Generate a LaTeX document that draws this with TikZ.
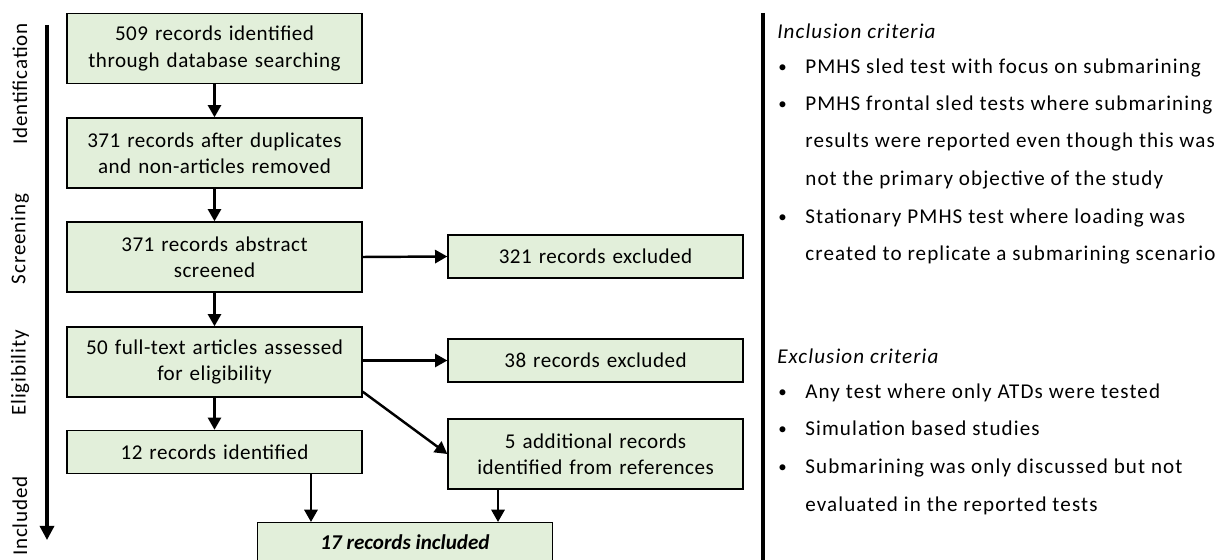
\documentclass[tikz,border=0pt]{standalone}
\usepackage{fontspec}
\setmainfont{Carlito}
\newfontfamily\boxfont[LetterSpace=2.3]{Carlito}
\newfontfamily\stagefont[LetterSpace=4]{Carlito}
\newfontfamily\critfont[LetterSpace=5.2]{Carlito}
\usetikzlibrary{arrows.meta,calc,positioning}
\definecolor{boxgreen}{HTML}{E2EFDA}
\newcommand{\critbullet}{\makebox[0.54cm][l]{\raisebox{0.08em}{\scalebox{0.8}{\textbullet}}}}
\tikzset{
  box/.style={draw=black, line width=0.8pt, fill=boxgreen, minimum width=5.9cm, text width=5.8cm, align=center, inner sep=0pt, font=\boxfont\fontsize{12}{15}\selectfont},
  twoline/.style={minimum height=1.4cm},
  oneline/.style={minimum height=0.86cm},
  arr/.style={line width=1.4pt, -{Triangle[length=7pt,width=7.5pt]}},
  stage/.style={rotate=90, font=\stagefont\fontsize{12}{15}\selectfont},
  crit/.style={anchor=base west, inner sep=0pt, font=\critfont\fontsize{12}{15}\selectfont}
}
\begin{document}
\begin{tikzpicture}[x=0.02cm, y=-0.02cm]
			\clip (0,0) rectangle (1215,560);
			\useasboundingbox (0,0) rectangle (1215,560);
			% flow boxes
			\node[box, twoline] (b1) at (214.5,48.5) {509 records identified\\through database searching};
			\node[box, twoline] (b2) at (214.5,153) {371 records after duplicates\\and non-articles removed};
			\node[box, twoline] (b3) at (214.5,257) {371 records abstract\\screened};
			\node[box, twoline] (b4) at (214.5,362) {50 full-text articles assessed\\for eligibility};
			\node[box, oneline] (b5) at (214.5,452) {12 records identified};
			\node[box, oneline] (ex1) at (595.5,256.5) {321 records excluded};
			\node[box, oneline] (ex2) at (595.5,360.5) {38 records excluded};
			\node[box, twoline] (add) at (595.5,454) {5 additional records\\identified from references};
			\node[box, anchor=north, minimum height=1.2cm] (fin) at (405,522) {};
			\node (fintext) at (405,542) {\fontsize{12}{15}\selectfont\bfseries\itshape 17 records included};
			% connectors
			\draw [arr] (b1)--(b2);
			\draw [arr] (b2)--(b3);
			\draw [arr] (b3)--(b4);
			\draw [arr] (b4)--(b5);
			\draw [arr] (b3.east)--(ex1.west);
			\draw [arr] (b4.east |- ex2.west)--(ex2.west);
			\draw [arr] ($(b4.south east)+(0,-6)$)--(add.west);
			\draw [arr] ([xshift=1.93cm]b5.south)--([xshift=1.93cm]b5.south |- fin.north);
			\draw [arr] ([xshift=-1.95cm]add.south)--([xshift=-1.95cm]add.south |- fin.north);
			% stages
			\coordinate (axtop) at (47,25);
			\coordinate (axbot) at (47,540);
			\draw [line width=1.8pt, -{Triangle[length=8pt,width=8pt]}] (axtop)--(axbot);
			\node[stage] (s1) at (20,84) {Identification};
			\node[stage] (s2) at (20,239) {Screening};
			\node[stage] (s3) at (20,373) {Eligibility};
			\node[stage] (s4) at (20,516) {Included};
			% criteria
			\coordinate (divtop) at (763,13);
			\coordinate (divbot) at (763,575);
			\draw [line width=1.8pt] (divtop)--(divbot);
			\node[crit] (inc) at (777,39) {\itshape Inclusion criteria};
			\node[crit] (inc1) at (778,74) {\critbullet PMHS sled test with focus on submarining};
			\node[crit] (inc2) at (778,111) {\critbullet PMHS frontal sled tests where submarining};
			\node[crit] (inc3) at (805,148) {results were reported even though this  was};
			\node[crit] (inc4) at (805,186) {not the primary objective of the study};
			\node[crit] (inc5) at (778,224) {\critbullet Stationary PMHS test where loading was};
			\node[crit] (inc6) at (805,261) {created to replicate a submarining scenario};
			\node[crit] (exc) at (777,364) {\itshape Exclusion criteria};
			\node[crit] (exc1) at (778,399) {\critbullet Any test where only ATDs were tested};
			\node[crit] (exc2) at (778,436) {\critbullet Simulation based studies};
			\node[crit] (exc3) at (778,474) {\critbullet Submarining was only discussed but not};
			\node[crit] (exc4) at (805,512) {evaluated in the reported tests};
\end{tikzpicture}
\end{document}
